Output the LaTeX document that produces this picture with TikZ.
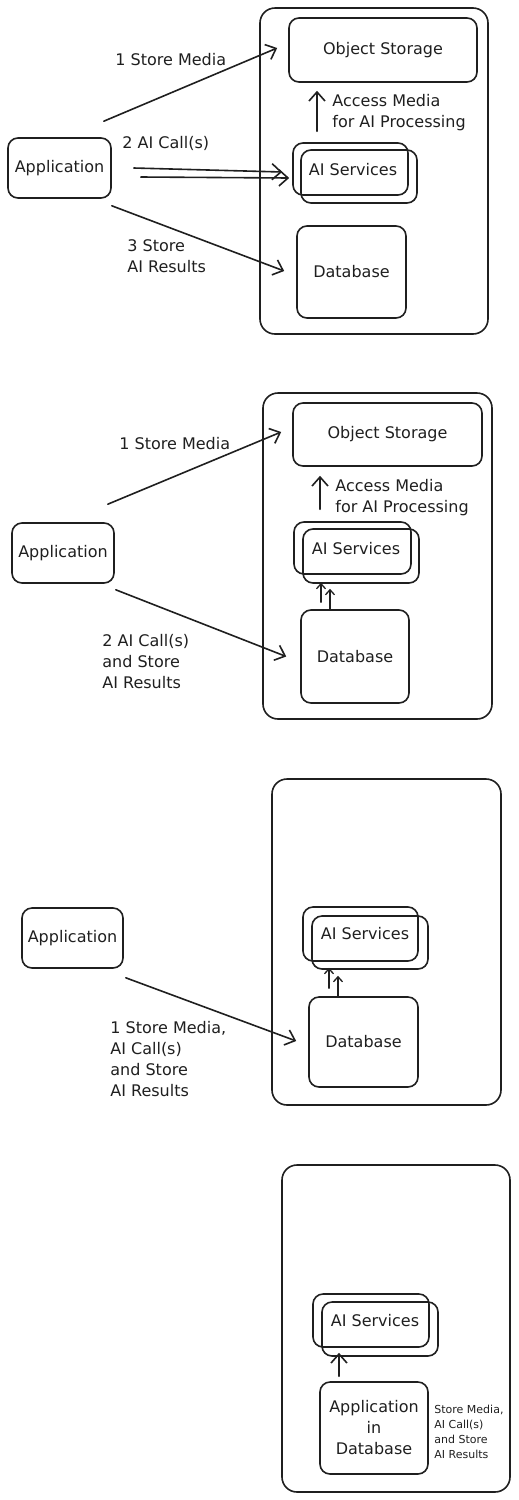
\documentclass[tikz,border=0pt]{standalone}
\usepackage{fontspec}
\setmainfont{DejaVu Sans}
\usetikzlibrary{arrows.meta}
\begin{document}
\begin{tikzpicture}[x=1pt, y=-1pt, line join=round, line cap=round, thick,
	every node/.style={font=\fontsize{16}{21}\selectfont, inner sep=0pt, text=black!88},
	frame/.style={draw=black!88, line width=1.6pt, rounded corners=15pt},
	box/.style={draw=black!88, line width=1.6pt, rounded corners=10pt, align=center},
	lbl/.style={anchor=west, align=left},
	arr/.style={draw=black!88, line width=1.6pt, -{Straight Barb[length=9pt, width=16pt]}},
	sarr/.style={draw=black!88, line width=1.3pt, -{Straight Barb[length=5pt, width=9pt]}}]
	\useasboundingbox (0,0) rectangle (519,1500);

	\node[frame, minimum width=228pt, minimum height=326pt] (cont1) at (374,171) {};
	\node[box, minimum width=188pt, minimum height=64pt] (os1) at (383,50) {Object Storage};
	\node[box, minimum width=115pt, minimum height=52pt] (ais1a) at (350.5,169) {};
	\node[box, minimum width=116pt, minimum height=53pt] (ais1b) at (359,176.5) {};
	\node (ais1) at (353,170) {AI Services};
	\node[box, minimum width=109pt, minimum height=92pt] (db1) at (351.5,272) {Database};
	\node[box, minimum width=103pt, minimum height=60pt] (app1) at (59.5,168) {Application};
	\draw[arr] ([xshift=-8pt, yshift=16pt]app1.north east) -- ([xshift=-11pt, yshift=2pt]os1.west);
	\draw[arr] ([xshift=22pt]app1.east) -- ([xshift=-10pt, yshift=-3pt]ais1a.west);
	\draw[arr] ([xshift=29pt, yshift=-9pt]app1.east) -- ([xshift=-3pt, yshift=-9pt]ais1a.west);
	\draw[arr] ([yshift=-7pt]app1.south east) -- ([xshift=-12pt, yshift=1pt]db1.west);
	\draw[arr] ([xshift=-33.5pt, yshift=11pt]ais1a.north) -- ([xshift=-66pt, yshift=-8pt]os1.south);
	\node[lbl] (l1s) at (115,60) {1 Store Media};
	\node[lbl] (l1c) at (122,143) {2 AI Call(s)};
	\node[lbl] (l1r) at (127,256.5) {3 Store\\AI Results};
	\node[lbl] (l1m) at (332,112.5) {Access Media\\for AI Processing};

	\node[frame, minimum width=229pt, minimum height=326pt] (cont2) at (377.5,556) {};
	\node[box, minimum width=189pt, minimum height=63pt] (os2) at (387.5,434.5) {Object Storage};
	\node[box, minimum width=117pt, minimum height=52pt] (ais2a) at (352.5,548) {};
	\node[box, minimum width=116pt, minimum height=54pt] (ais2b) at (361,556) {};
	\node (ais2) at (356,549) {AI Services};
	\node[box, minimum width=108pt, minimum height=93pt] (db2) at (355,656.5) {Database};
	\node[box, minimum width=102pt, minimum height=60pt] (app2) at (63,553) {Application};
	\draw[arr] ([xshift=-7pt, yshift=18pt]app2.north east) -- ([xshift=-11pt, yshift=2.5pt]os2.west);
	\draw[arr] ([xshift=1pt, yshift=-6pt]app2.south east) -- ([xshift=-14pt]db2.west);
	\draw[arr] ([xshift=-32.5pt, yshift=12pt]ais2a.north) -- ([xshift=-67.5pt, yshift=-9pt]os2.south);
	\draw[sarr] ([xshift=-34pt, yshift=7pt]db2.north) -- ([xshift=-40pt, yshift=1pt]ais2b.south);
	\draw[sarr] ([xshift=-25pt]db2.north) -- ([xshift=-31pt, yshift=-5pt]ais2b.south);
	\node[lbl] (l2s) at (119,444) {1 Store Media};
	\node[lbl] (l2c) at (102,661.5) {2 AI Call(s)\\and Store\\AI Results};
	\node[lbl] (l2m) at (335,497.5) {Access Media\\for AI Processing};

	\node[frame, minimum width=229pt, minimum height=326pt] (cont3) at (386.5,942) {};
	\node[box, minimum width=115pt, minimum height=54pt] (ais3a) at (360.5,934) {};
	\node[box, minimum width=116pt, minimum height=53pt] (ais3b) at (370,942.5) {};
	\node (ais3) at (365,934) {AI Services};
	\node[box, minimum width=109pt, minimum height=90pt] (db3) at (363.5,1042) {Database};
	\node[box, minimum width=101pt, minimum height=60pt] (app3) at (72.5,938) {Application};
	\draw[arr] ([xshift=2pt, yshift=-9pt]app3.south east) -- ([xshift=-12pt, yshift=1pt]db3.west);
	\draw[sarr] ([xshift=-34.5pt, yshift=8pt]db3.north) -- ([xshift=-41pt, yshift=2pt]ais3b.south);
	\draw[sarr] ([xshift=-25.5pt]db3.north) -- ([xshift=-32pt, yshift=-6pt]ais3b.south);
	\node[lbl] (l3c) at (110,1059) {1 Store Media,\\AI Call(s)\\and Store\\AI Results};

	\node[frame, minimum width=228pt, minimum height=327pt] (cont4) at (396,1328.5) {};
	\node[box, minimum width=116pt, minimum height=53pt] (ais4a) at (371,1320.5) {};
	\node[box, minimum width=116pt, minimum height=54pt] (ais4b) at (380,1329) {};
	\node (ais4) at (375,1321) {AI Services};
	\node[box, minimum width=108pt, minimum height=92pt] (appdb) at (374,1428) {Application\\in\\Database};
	\draw[arr] ([xshift=-35pt, yshift=5pt]appdb.north) -- ([xshift=-41pt, yshift=4pt]ais4b.south);
	\node[lbl, font=\fontsize{11}{15}\selectfont] (l4c) at (434,1431.5) {Store Media,\\AI Call(s)\\and Store\\AI Results};
\end{tikzpicture}
\end{document}
